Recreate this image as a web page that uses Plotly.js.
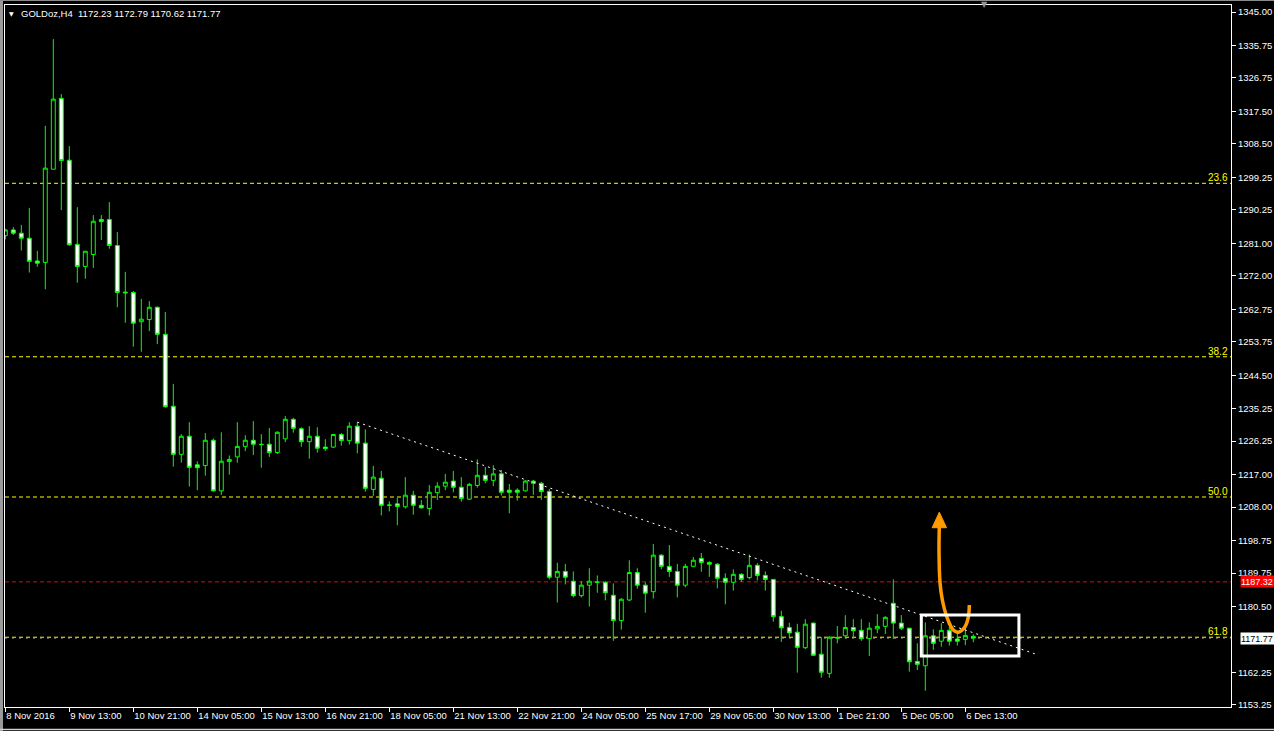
<!DOCTYPE html>
<html>
<head>
<meta charset="utf-8">
<script src="https://cdn.plot.ly/plotly-3.0.1.min.js"></script>
<style>
html,body{margin:0;padding:0;background:#000;}
#chart{width:1274px;height:731px;}
</style>
</head>
<body>
<div id="chart"></div>
<script>
// ---- Data (GOLDoz, H4) ----
const barIndex = [];
for (let i = 0; i < 122; i++) barIndex.push(i);

const opens = [
1283.1,1284.7,1283.8,1282.4,1276.1,1275.7,1301.5,1321.1,1304.0,1280.7,
1274.6,1277.9,1287.6,1287.6,1280.4,1267.5,1267.4,1259.3,1259.9,1263.3,
1255.8,1235.9,1222.6,1227.6,1219.7,1219.5,1226.5,1212.5,1220.6,1221.9,
1224.8,1226.5,1225.4,1225.4,1223.1,1226.9,1232.3,1229.7,1226.1,1227.6,
1224.6,1224.6,1228.1,1226.4,1230.4,1225.7,1212.9,1216.0,1208.6,1208.9,
1208.1,1211.3,1208.5,1207.6,1212.0,1213.8,1215.2,1213.5,1210.2,1214.0,
1216.8,1215.4,1217.2,1212.7,1212.7,1212.5,1215.2,1214.6,1212.3,1188.6,
1190.2,1187.5,1183.5,1186.4,1187.3,1187.2,1183.6,1176.6,1182.3,1189.9,
1186.4,1184.6,1194.7,1191.6,1190.2,1186.4,1191.6,1193.8,1192.7,1192.2,
1188.3,1187.2,1189.4,1188.5,1191.9,1189.1,1188.0,1177.7,1174.7,1173.4,
1169.1,1175.9,1167.3,1162.0,1171.9,1172.4,1174.7,1173.9,1171.6,1174.3,
1175.0,1181.4,1175.9,1174.5,1165.3,1164.1,1172.4,1170.9,1173.9,1171.5,
1171.4,1172.23];
const highs = [
1285.0,1285.5,1286.1,1290.8,1278.9,1313.5,1337.5,1322.3,1307.9,1291.0,
1278.8,1288.8,1288.8,1292.4,1284.1,1273.1,1267.8,1265.6,1265.0,1263.5,
1262.0,1242.1,1228.2,1231.5,1220.7,1228.5,1227.0,1228.7,1222.3,1231.5,
1227.9,1231.8,1228.2,1229.9,1229.0,1233.2,1232.7,1230.1,1230.4,1230.1,
1226.8,1228.1,1228.5,1231.5,1231.5,1229.5,1219.4,1218.0,1209.6,1210.5,
1216.3,1212.5,1210.0,1214.1,1214.9,1217.2,1218.0,1216.3,1214.7,1221.2,
1219.1,1219.6,1218.3,1214.4,1213.2,1215.5,1215.5,1215.0,1213.0,1192.6,
1192.3,1190.2,1187.5,1191.1,1189.1,1187.5,1186.9,1182.8,1193.3,1191.1,
1187.2,1197.8,1195.0,1197.5,1192.3,1192.3,1194.2,1195.3,1193.0,1192.5,
1189.7,1190.8,1189.7,1194.9,1192.5,1190.2,1188.0,1179.3,1176.0,1175.7,
1177.0,1176.1,1172.0,1172.3,1175.1,1178.1,1177.0,1177.0,1176.1,1178.4,
1177.8,1188.0,1178.1,1174.5,1170.3,1176.1,1174.2,1175.9,1174.8,1173.5,
1174.5,1172.79];
const lows = [
1282.1,1283.3,1279.0,1272.9,1274.5,1268.3,1301.5,1290.2,1280.3,1270.1,
1271.2,1274.2,1281.9,1279.5,1263.3,1259.0,1252.4,1251.0,1256.7,1253.1,
1235.5,1219.2,1220.3,1213.7,1212.7,1216.7,1212.3,1211.4,1217.0,1220.3,
1223.5,1222.4,1218.9,1221.9,1222.7,1226.0,1228.6,1224.7,1221.4,1223.1,
1223.5,1224.4,1225.0,1225.3,1222.9,1212.3,1211.1,1205.7,1206.8,1203.0,
1207.6,1205.9,1207.6,1205.7,1210.0,1212.7,1212.1,1209.5,1210.0,1213.4,
1214.6,1213.8,1211.2,1206.3,1209.8,1212.3,1211.4,1210.0,1188.0,1181.6,
1186.6,1183.0,1183.0,1180.5,1184.3,1182.2,1171.0,1174.1,1182.0,1185.4,
1178.8,1182.7,1190.8,1188.7,1183.0,1185.8,1191.5,1190.1,1188.7,1185.5,
1181.1,1184.9,1187.3,1188.0,1187.7,1184.9,1176.3,1170.7,1172.0,1162.2,
1168.7,1166.8,1160.8,1160.8,1170.3,1171.7,1172.1,1171.0,1166.8,1173.1,
1172.9,1171.5,1174.0,1162.5,1162.9,1157.2,1168.5,1169.4,1169.7,1169.7,
1169.8,1170.62];
const closes = [
1284.7,1283.8,1282.4,1276.0,1275.5,1301.8,1320.9,1303.9,1280.6,1274.6,
1278.8,1287.1,1287.0,1280.4,1267.4,1267.3,1258.9,1260.0,1263.3,1255.8,
1235.8,1222.6,1227.6,1219.0,1218.9,1226.5,1212.5,1220.7,1221.2,1224.8,
1226.5,1225.4,1225.3,1223.1,1228.7,1232.3,1229.8,1226.1,1227.6,1224.3,
1224.2,1228.1,1226.4,1230.4,1225.7,1213.2,1216.3,1208.5,1208.5,1208.2,
1211.3,1208.5,1207.8,1212.1,1213.8,1214.9,1213.5,1210.4,1214.3,1216.8,
1215.4,1217.2,1212.1,1212.1,1212.1,1215.2,1214.6,1212.3,1188.6,1190.2,
1188.6,1183.5,1186.4,1187.5,1187.2,1184.3,1176.6,1182.5,1189.9,1186.4,
1184.2,1194.7,1191.6,1190.2,1186.4,1191.6,1193.3,1192.7,1192.2,1188.3,
1187.2,1189.4,1188.0,1191.9,1189.1,1188.0,1177.7,1174.6,1173.2,1169.2,
1175.6,1167.0,1162.3,1172.0,1171.8,1174.7,1173.8,1171.6,1174.5,1175.0,
1177.5,1175.9,1174.5,1165.2,1164.5,1172.4,1170.3,1173.9,1170.9,1170.9,
1172.5,1171.77];

// axis labels
const timeTickIndex = [0,8,16,24,32,40,48,56,64,72,80,88,96,104,112,120];
const timeTickText = ["8 Nov 2016","9 Nov 13:00","10 Nov 21:00","14 Nov 05:00","15 Nov 13:00",
  "16 Nov 21:00","18 Nov 05:00","21 Nov 13:00","22 Nov 21:00","24 Nov 05:00","25 Nov 17:00",
  "29 Nov 05:00","30 Nov 13:00","1 Dec 21:00","5 Dec 05:00","6 Dec 13:00"];
const priceTicks = [1345.00,1335.75,1326.75,1317.50,1308.50,1299.25,1290.25,1281.00,1272.00,
  1262.75,1253.75,1244.50,1235.25,1226.25,1217.00,1208.00,1198.75,1189.75,1180.50,1162.25,1153.25];

// Fibonacci levels
const fibLabels = ["23.6","38.2","50.0","61.8"];
const fibPrices = [1297.6,1249.6,1210.8,1172.0];

// Other levels
const bidPrice = 1171.77;
const alertPrice = 1187.32;
const header = "GOLDoz,H4  1172.23 1172.79 1170.62 1171.77";

// Trend line (drawn object)
const trendX = [44, 129.1];
const trendY = [1231.5, 1167.1];

// Box drawn round the last bars
const boxX = [114.5, 126.7];
const boxY = [1166.8, 1178.15];

// Orange hand-drawn arrow
const arrowX = [120.5,120.38,119.96,119.13,118.5,117.68,117.13,116.84,116.71,116.75];
const arrowY = [1180.9,1177.6,1174.9,1173.4,1174.0,1177.7,1182.3,1187.0,1196.1,1202.5];
const headX = [115.85,117.65,116.75,115.85];
const headY = [1202.3,1202.3,1206.6,1202.3];

// ---- Build ----
const FONT = "Liberation Sans, Arial, sans-serif";
const xRange = [-0.0375, 153.21];
const yRange = [1152.69, 1346.94];
const W = 1226, LM = 5;
const pxToPaperX = px => (px - LM) / W;

const traces = [];

traces.push({
  type: 'scatter', mode: 'lines', x: trendX, y: trendY,
  line: {color: '#ffffff', width: 1, dash: '2px,4px'}, hoverinfo: 'skip'
});

traces.push({
  type: 'candlestick', x: barIndex, open: opens, high: highs, low: lows, close: closes,
  increasing: {line: {color: '#00ff00', width: 1}, fillcolor: '#000000'},
  decreasing: {line: {color: '#00ff00', width: 1}, fillcolor: '#ffffff'},
  whiskerwidth: 0, hoverinfo: 'skip'
});

traces.push({
  type: 'scatter', mode: 'lines', x: arrowX, y: arrowY,
  line: {color: '#ff9a00', width: 3.5, shape: 'spline', smoothing: 1}, hoverinfo: 'skip'
});
traces.push({
  type: 'scatter', mode: 'lines', x: headX, y: headY, fill: 'toself',
  fillcolor: '#ff9a00', line: {color: '#ff9a00', width: 1}, hoverinfo: 'skip'
});

const shapes = [];
fibPrices.forEach(p => shapes.push({
  type: 'line', xref: 'paper', x0: 0, x1: 1, yref: 'y', y0: p, y1: p,
  line: {color: '#ffff00', width: 1, dash: '4px,3px'}, layer: 'below'
}));
shapes.push({type: 'line', xref: 'paper', x0: 0, x1: 1, yref: 'y', y0: alertPrice, y1: alertPrice,
  line: {color: '#c81414', width: 1, dash: '4px,3px'}, layer: 'below'});
shapes.push({type: 'line', xref: 'paper', x0: 0, x1: 1, yref: 'y', y0: bidPrice, y1: bidPrice,
  line: {color: '#a0a0a0', width: 1, dash: '2px,5px'}, layer: 'below'});
shapes.push({type: 'rect', xref: 'x', yref: 'y', x0: boxX[0], x1: boxX[1], y0: boxY[0], y1: boxY[1],
  line: {color: '#ffffff', width: 3}});
// window chrome
shapes.push({type: 'rect', xref: 'paper', yref: 'paper', x0: pxToPaperX(0), x1: pxToPaperX(3),
  y0: -0.04, y1: 1.01, fillcolor: '#9a9a9a', line: {width: 0}});
shapes.push({type: 'line', xref: 'paper', yref: 'paper', x0: pxToPaperX(0), x1: pxToPaperX(1274),
  y0: 1 + 4.5/702, y1: 1 + 4.5/702, line: {color: '#8a8a8a', width: 1}});
shapes.push({type: 'line', xref: 'paper', yref: 'paper', x0: pxToPaperX(0), x1: pxToPaperX(1274),
  y0: -(729.5-707)/702, y1: -(729.5-707)/702, line: {color: '#cfcfcf', width: 1.5}});

const annotations = [];
fibLabels.forEach((t, k) => annotations.push({
  xref: 'paper', x: pxToPaperX(1229), xanchor: 'right', yref: 'y', y: fibPrices[k], yanchor: 'bottom',
  text: t, showarrow: false, font: {family: FONT, size: 10, color: '#ffff00'}, borderpad: 0, yshift: -1
}));
annotations.push({
  xref: 'paper', x: pxToPaperX(1240), xanchor: 'left', yref: 'y', y: alertPrice, yanchor: 'middle',
  text: alertPrice.toFixed(2), showarrow: false, bgcolor: '#ff0000', width: 34, height: 11, align: 'left',
  font: {family: FONT, size: 9, color: '#ffffff'}, borderpad: 0
});
annotations.push({
  xref: 'paper', x: pxToPaperX(1240), xanchor: 'left', yref: 'y', y: bidPrice, yanchor: 'middle',
  text: bidPrice.toFixed(2), showarrow: false, bgcolor: '#ffffff', width: 34, height: 11, align: 'left',
  font: {family: FONT, size: 9, color: '#000000'}, borderpad: 0
});
annotations.push({
  xref: 'paper', x: pxToPaperX(7), xanchor: 'left', yref: 'paper', y: 1 - 8/702, yanchor: 'middle',
  text: '▼', showarrow: false, font: {family: 'DejaVu Sans', size: 6, color: '#ffffff'}
});
annotations.push({
  xref: 'paper', x: pxToPaperX(19), xanchor: 'left', yref: 'paper', y: 1 - 8/702, yanchor: 'middle',
  text: header, showarrow: false, font: {family: FONT, size: 9.5, color: '#ffffff'}
});
annotations.push({
  xref: 'paper', x: pxToPaperX(984.5), xanchor: 'center', yref: 'paper', y: 1 + 1/702, yanchor: 'middle',
  text: '▼', showarrow: false, font: {family: 'DejaVu Sans', size: 8, color: '#8c96a0'}
});

const layout = {
  width: 1274, height: 731,
  margin: {l: 5, r: 43, t: 5, b: 24, pad: 0},
  paper_bgcolor: '#000000', plot_bgcolor: '#000000',
  showlegend: false,
  font: {family: FONT, size: 9.5, color: '#ffffff'},
  xaxis: {
    range: xRange, rangeslider: {visible: false}, showgrid: false, zeroline: false,
    tickmode: 'array', tickvals: timeTickIndex, ticktext: timeTickText,
    ticks: 'outside', ticklen: 4, tickcolor: '#ffffff', tickwidth: 1,
    ticklabelposition: 'outside right', tickangle: 0, automargin: false,
    showline: true, linecolor: '#ffffff', linewidth: 1, mirror: true,
    tickfont: {family: FONT, size: 9.5, color: '#ffffff'}, fixedrange: true
  },
  yaxis: {
    range: yRange, side: 'right', showgrid: false, zeroline: false,
    tickmode: 'array', tickvals: priceTicks, ticktext: priceTicks.map(v => v.toFixed(2)),
    ticks: 'outside', ticklen: 4, tickcolor: '#ffffff', tickwidth: 1,
    showline: true, linecolor: '#ffffff', linewidth: 1, mirror: true, automargin: false,
    tickfont: {family: FONT, size: 9.5, color: '#ffffff'}, fixedrange: true
  },
  shapes: shapes,
  annotations: annotations
};

Plotly.newPlot('chart', traces, layout, {staticPlot: true, displayModeBar: false});
</script>
</body>
</html>
